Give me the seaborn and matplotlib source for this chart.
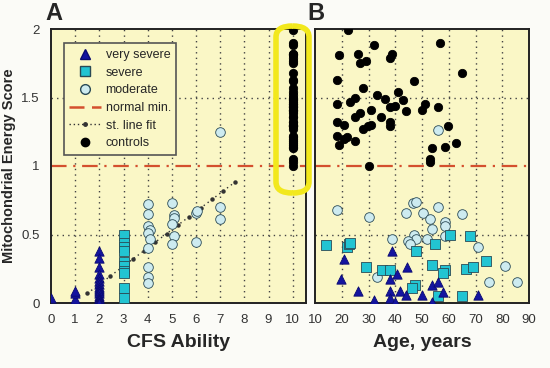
import numpy as np
import pandas as pd
import matplotlib
matplotlib.use("Agg")
import matplotlib.pyplot as plt
import seaborn as sns
from matplotlib.patches import FancyBboxPatch
from matplotlib.lines import Line2D

sns.set_style("white")
plt.rcParams['font.family'] = ['Liberation Sans', 'DejaVu Sans']

# ---------------- data: panel A (CFS ability) ----------------
vs_ability = [0, 1, 1, 1, 1, 2, 2, 2, 2, 2, 2, 2, 2, 2, 2, 2, 2, 2, 2, 2, 2, 2]
vs_score_a = [0.04, 0.0, 0.03, 0.07, 0.09, 0.38, 0.33, 0.26, 0.21, 0.18, 0.16, 0.14,
              0.12, 0.10, 0.085, 0.07, 0.05, 0.04, 0.03, 0.02, 0.01, 0.0]
sev_ability = [3, 3, 3, 3, 3, 3, 3, 3, 3, 3]
sev_score_a = [0.50, 0.44, 0.41, 0.38, 0.30, 0.27, 0.23, 0.22, 0.11, 0.04]
mod_ability = [4, 4, 4, 4.1, 4, 4.1, 4, 4, 4, 4, 5, 5.1, 5.1, 5, 5.1, 5, 6, 6.05, 6, 7, 7, 7]
mod_score_a = [0.72, 0.65, 0.56, 0.53, 0.51, 0.47, 0.40, 0.26, 0.19, 0.145,
               0.73, 0.64, 0.62, 0.58, 0.49, 0.43, 0.66, 0.67, 0.445, 1.245, 0.70, 0.61]
fit_range = [1.5, 7.6]
fit_slope = 0.133
fit_intercept = -0.13

# ---------------- data: panel B (age) ----------------
ctrl_age = [22.3, 32.0, 56.9, 19.1, 25.9, 38.9, 37.9, 28.9, 27.0, 65.1, 18.1, 46.9,
            28.0, 41.0, 33.2, 24.9, 36.0, 23.0, 42.9, 18.1, 51.0, 40.0, 37.9, 55.9,
            27.0, 43.9, 30.8, 49.9, 24.9, 34.8, 18.1, 20.9, 30.8, 29.8, 37.9, 28.0,
            37.9, 59.9, 18.1, 20.9, 22.1, 19.1, 24.9, 62.8, 58.7, 53.9, 52.9, 52.9, 30.0]
ctrl_score = [1.99, 1.88, 1.90, 1.81, 1.82, 1.82, 1.79, 1.77, 1.75, 1.68, 1.63, 1.62,
              1.57, 1.54, 1.52, 1.50, 1.49, 1.47, 1.48, 1.45, 1.45, 1.44, 1.43, 1.43,
              1.39, 1.40, 1.41, 1.41, 1.36, 1.36, 1.32, 1.30, 1.30, 1.29, 1.32, 1.27,
              1.29, 1.29, 1.22, 1.20, 1.21, 1.15, 1.18, 1.17, 1.14, 1.13, 1.05, 1.03, 1.00]
mod_age = [18.1, 30.0, 46.8, 47.9, 43.9, 50.2, 55.9, 65.1, 52.9, 58.7, 58.7, 53.9,
           46.9, 47.9, 38.9, 44.8, 45.7, 51.9, 58.7, 71.0, 81.0, 33.0, 75.0, 85.7, 56.1]
mod_score_b = [0.68, 0.63, 0.73, 0.74, 0.66, 0.66, 0.70, 0.65, 0.61, 0.59, 0.56, 0.54,
               0.50, 0.47, 0.47, 0.45, 0.43, 0.47, 0.49, 0.41, 0.27, 0.19, 0.15, 0.15, 1.26]
sev_age = [14.1, 22.0, 22.6, 23.1, 47.9, 54.9, 60.3, 68.0, 29.1, 35.0, 37.9, 53.9,
           58.7, 58.0, 66.4, 68.9, 73.8, 47.2, 46.2, 55.8, 65.1]
sev_score_b = [0.42, 0.41, 0.43, 0.44, 0.38, 0.43, 0.50, 0.49, 0.26, 0.24, 0.24, 0.28,
               0.24, 0.22, 0.25, 0.26, 0.31, 0.13, 0.11, 0.05, 0.05]
vs_age = [38.9, 20.8, 19.8, 44.5, 40.8, 37.9, 26.0, 32.0, 37.9, 37.9, 39.8, 41.7,
          43.9, 53.9, 56.1, 58.0, 50.0, 53.9, 71.0]
vs_score_b = [0.38, 0.32, 0.175, 0.26, 0.21, 0.175, 0.085, 0.025, 0.085, 0.035, 0.01,
              0.09, 0.055, 0.13, 0.15, 0.08, 0.06, 0.01, 0.06]

normal_min = 1.0
ability_ticks = list(range(0, 11))
age_ticks = list(range(10, 91, 10))
score_ticks = [0, 0.5, 1, 1.5, 2]
score_labels = ["0", "0.5", "1", "1.5", "2"]

# ---------------- styles ----------------
AX_BG = "#FAF7C6"
FIG_BG = "#FBFBF7"
C_VS = "#1414A0"
C_SEV = "#22C4D2"
C_MOD = "#CDEBF0"
C_RED = "#D4502E"
EDGE = "#2A4A55"

fig = plt.figure(figsize=(5.5, 3.68), dpi=100, facecolor=FIG_BG)
axA = fig.add_axes([51/550, 1-303/368, (306-51)/550, (303-29)/368])
axB = fig.add_axes([315/550, 1-303/368, (529-315)/550, (303-29)/368])

def style_axis(ax):
    ax.set_facecolor(AX_BG)
    for s in ax.spines.values():
        s.set_color("#222222")
        s.set_linewidth(1.4)
    ax.tick_params(direction="inout", length=6, width=1.2, color="#222222",
                   labelsize=9.5, labelcolor="#333333", pad=5)
    ax.set_ylim(0, 2)
    ax.axhline(normal_min, color=C_RED, lw=1.6, dashes=(7, 3, 1, 3), zorder=2)
    for yv in [0.5, 1.5]:
        ax.axhline(yv, color="#444444", lw=1.0, dashes=(1, 3), zorder=1)

def scatter(ax, x, y, marker, fc, size, ec, lw=0.6, label=None):
    sns.scatterplot(x=x, y=y, ax=ax, marker=marker, color=fc, s=size,
                    edgecolor=ec, linewidth=lw, zorder=4, label=label, legend=False)

# ---- panel A ----
style_axis(axA)
axA.set_xlim(0, 10.55)
for xv in ability_ticks[1:]:
    axA.axvline(xv, color="#444444", lw=1.0, dashes=(1, 3), zorder=1)
fx = np.array(fit_range)
axA.plot(fx, fit_slope * fx + fit_intercept, color="#333333", lw=1.0,
         dashes=(1, 2.5), zorder=3)
axA.plot(np.linspace(fit_range[0], fit_range[1], 14),
         fit_slope * np.linspace(fit_range[0], fit_range[1], 14) + fit_intercept,
         ls="none", marker="o", ms=2.2, color="#333333", zorder=3)
scatter(axA, vs_ability, vs_score_a, "^", C_VS, 45, "#0A0A70")
scatter(axA, sev_ability, sev_score_a, "s", C_SEV, 42, EDGE)
scatter(axA, mod_ability, mod_score_a, "o", C_MOD, 48, EDGE)
scatter(axA, [10] * len(ctrl_score), ctrl_score, "o", "black", 36, "black")
axA.set_xticks(ability_ticks)
axA.set_yticks(score_ticks)
axA.set_yticklabels(score_labels)
axA.set_xlabel("CFS Ability", fontsize=14, fontweight="bold", labelpad=6)
axA.set_ylabel("Mitochondrial Energy Score", fontsize=10.5, fontweight="bold", labelpad=4)

handles = [
    Line2D([], [], ls="none", marker="^", ms=7, mfc=C_VS, mec="#0A0A70"),
    Line2D([], [], ls="none", marker="s", ms=7, mfc=C_SEV, mec=EDGE),
    Line2D([], [], ls="none", marker="o", ms=7, mfc=C_MOD, mec=EDGE),
    Line2D([], [], color=C_RED, lw=1.8, dashes=(6, 3)),
    Line2D([], [], color="#333333", lw=1.0, dashes=(1, 2), marker="o", ms=2.5, markevery=[1]),
    Line2D([], [], ls="none", marker="o", ms=6, mfc="black", mec="black"),
]
labels = ["very severe", "severe", "moderate", "normal min.", "st. line fit", "controls"]
leg = axA.legend(handles, labels, loc="upper left", bbox_to_anchor=(0.025, 0.97),
                 fontsize=9, frameon=True, fancybox=False, handlelength=2.5,
                 handletextpad=0.4, labelspacing=0.45, borderpad=0.45)
leg.get_frame().set_facecolor(AX_BG)
leg.get_frame().set_edgecolor("#555555")
leg.get_frame().set_linewidth(1.2)
leg.get_frame().set_alpha(1)

# ---- panel B ----
style_axis(axB)
axB.set_xlim(10, 90)
for xv in age_ticks[1:-1]:
    axB.axvline(xv, color="#444444", lw=1.0, dashes=(1, 3), zorder=1)
scatter(axB, ctrl_age, ctrl_score, "o", "black", 36, "black")
scatter(axB, mod_age, mod_score_b, "o", C_MOD, 48, EDGE)
scatter(axB, sev_age, sev_score_b, "s", C_SEV, 42, EDGE)
scatter(axB, vs_age, vs_score_b, "^", C_VS, 45, "#0A0A70")
axB.set_xticks(age_ticks)
axB.set_yticks(score_ticks)
axB.set_yticklabels([])
axB.set_xlabel("Age, years", fontsize=14, fontweight="bold", labelpad=6)
axB.set_ylabel("")

# panel letters
fig.text(45/550, 1-14/368, "A", fontsize=17, fontweight="bold", va="center", ha="left")
fig.text(307/550, 1-14/368, "B", fontsize=17, fontweight="bold", va="center", ha="left")

# yellow highlight around controls
hl = FancyBboxPatch((276/550, 1-193/368), (309-276)/550, (193-26)/368,
                    boxstyle="round,pad=0,rounding_size=0.03",
                    transform=fig.transFigure, fill=False, edgecolor="#F2E81C",
                    linewidth=4, zorder=10)
fig.patches.append(hl)

fig.savefig("out.png", dpi=100, facecolor=FIG_BG)
